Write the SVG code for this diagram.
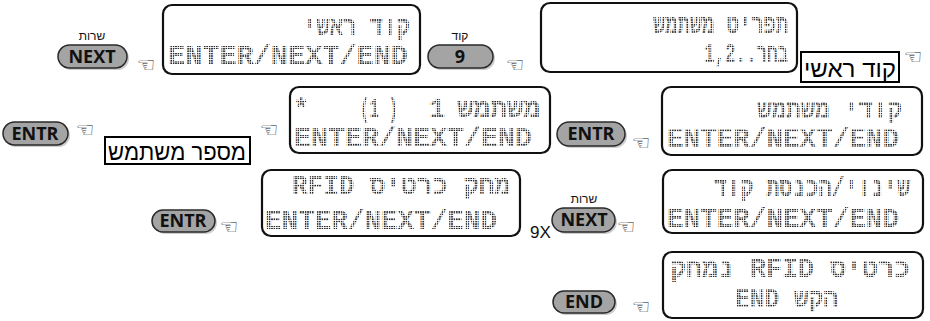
<svg xmlns="http://www.w3.org/2000/svg" width="930" height="321" viewBox="0 0 930 321">
<defs>
<pattern id="dots" patternUnits="userSpaceOnUse" width="2.4" height="2.4">
<rect x="0" y="0" width="1.6" height="1.6" fill="#2a2a2a"/>
</pattern>
<style>
.lcd{fill:#fff;stroke:#111;stroke-width:2.2}
.lt{font-family:"Liberation Mono","DejaVu Sans Mono",monospace;font-size:27px;font-weight:bold;fill:url(#dots)}
.sh{fill:#cdcdcd}
.btn{fill:#a4a4a4;stroke:#2a2a2a;stroke-width:1.5}
.bt{font-family:"Open Sans","Liberation Sans",sans-serif;font-weight:bold;font-size:18px;fill:#111;text-anchor:middle}
.sm{font-family:"Liberation Sans","Noto Sans",sans-serif;font-size:12px;fill:#111;text-anchor:middle}
.hand{font-family:"DejaVu Sans",sans-serif;font-size:21px;fill:#222;text-anchor:middle}
.lbl{fill:#fff;stroke:#000;stroke-width:2}
.lbt{font-family:"Liberation Sans","Noto Sans",sans-serif;font-size:24px;fill:#000;text-anchor:middle}
</style>
</defs>
<rect width="930" height="321" fill="#fff"/>

<g id="lcd-menu">
<rect class="lcd" x="541" y="3" width="256" height="69" rx="9"/>
<text class="lt" x="653" y="33" textLength="135" lengthAdjust="spacingAndGlyphs">תפריט משתמש</text>
<text class="lt" x="704" y="62" textLength="84" lengthAdjust="spacingAndGlyphs">1,2..בחר</text>
</g>
<g id="label-master">
<rect class="lbl" x="801" y="52" width="98" height="30"/>
<text class="lbt" x="850" y="77" textLength="92" lengthAdjust="spacingAndGlyphs">קוד ראשי</text>
</g>
<g id="lcd-master">
<rect class="lcd" x="163" y="5" width="257" height="69" rx="9"/>
<text class="lt" x="303" y="35" textLength="107" lengthAdjust="spacingAndGlyphs">קוד ראשי</text>
<text class="lt" x="168" y="64" textLength="240" lengthAdjust="spacingAndGlyphs">ENTER/NEXT/END</text>
</g>
<g id="btn-9">
<text class="sm" x="460" y="40">קוד</text>
<rect class="sh" x="430" y="47" width="65" height="23" rx="11.5"/>
<rect class="btn" x="428" y="45" width="65" height="23" rx="11.5"/>
<text class="bt" x="460" y="63">9</text>
</g>
<g id="btn-next-1">
<text class="sm" x="92" y="40">שרות</text>
<rect class="sh" x="60" y="47" width="69" height="23" rx="11.5"/>
<rect class="btn" x="58" y="45" width="69" height="23" rx="11.5"/>
<text class="bt" x="92" y="63">NEXT</text>
</g>

<g id="lcd-codes">
<rect class="lcd" x="662" y="87" width="260" height="68" rx="9"/>
<text class="lt" x="757" y="118" textLength="145" lengthAdjust="spacingAndGlyphs">קודי משתמש</text>
<text class="lt" x="667" y="147" textLength="232" lengthAdjust="spacingAndGlyphs">ENTER/NEXT/END</text>
</g>
<g id="btn-entr-2">
<rect class="sh" x="559" y="124" width="68" height="24" rx="12"/>
<rect class="btn" x="557" y="122" width="68" height="24" rx="12"/>
<text class="bt" x="591" y="140">ENTR</text>
</g>
<g id="lcd-user1">
<rect class="lcd" x="290" y="87" width="260" height="66" rx="9"/>
<text class="lt" x="293" y="117">*</text>
<text class="lt" x="360" y="117" textLength="38" lengthAdjust="spacingAndGlyphs">(1 )</text>
<text class="lt" x="429" y="117">1</text>
<text class="lt" x="457" y="117" textLength="83" lengthAdjust="spacingAndGlyphs">משתמש</text>
<text class="lt" x="294" y="146" textLength="238" lengthAdjust="spacingAndGlyphs">ENTER/NEXT/END</text>
</g>
<g id="label-user-number">
<rect class="lbl" x="105" y="137" width="145" height="27"/>
<text class="lbt" x="177" y="160" textLength="138" lengthAdjust="spacingAndGlyphs">מספר משתמש</text>
</g>
<g id="btn-entr-1">
<rect class="sh" x="5" y="124" width="65" height="23" rx="11.5"/>
<rect class="btn" x="3" y="122" width="65" height="23" rx="11.5"/>
<text class="bt" x="35" y="140">ENTR</text>
</g>

<g id="lcd-change-code">
<rect class="lcd" x="663" y="170" width="260" height="63" rx="9"/>
<text class="lt" x="714" y="196" textLength="196" lengthAdjust="spacingAndGlyphs">שינוי/הכנסת קוד</text>
<text class="lt" x="667" y="227" textLength="232" lengthAdjust="spacingAndGlyphs">ENTER/NEXT/END</text>
</g>
<g id="btn-next-2">
<text class="sm" x="584" y="203">שרות</text>
<text x="530" y="238" style="font-family:'Liberation Sans',sans-serif;font-size:17px;fill:#111">9X</text>
<rect class="sh" x="554" y="210" width="63" height="24" rx="12"/>
<rect class="btn" x="552" y="208" width="63" height="24" rx="12"/>
<text class="bt" x="584" y="226">NEXT</text>
</g>
<g id="lcd-delete-rfid">
<rect class="lcd" x="262" y="170" width="258" height="66" rx="9"/>
<text class="lt" x="292" y="194" textLength="218" lengthAdjust="spacingAndGlyphs">RFID מחק כרטיס</text>
<text class="lt" x="265" y="229" textLength="232" lengthAdjust="spacingAndGlyphs">ENTER/NEXT/END</text>
</g>
<g id="btn-entr-3">
<rect class="sh" x="154" y="212" width="63" height="22" rx="11"/>
<rect class="btn" x="152" y="210" width="63" height="22" rx="11"/>
<text class="bt" x="183" y="227">ENTR</text>
</g>

<g id="lcd-deleted">
<rect class="lcd" x="663" y="252" width="260" height="66" rx="9"/>
<text class="lt" x="670" y="277" textLength="240" lengthAdjust="spacingAndGlyphs">נמחק RFID כרטיס</text>
<text class="lt" x="735" y="307" textLength="103" lengthAdjust="spacingAndGlyphs">END הקש</text>
</g>
<g id="btn-end">
<rect class="sh" x="555" y="293" width="62" height="22" rx="11"/>
<rect class="btn" x="553" y="291" width="62" height="22" rx="11"/>
<text class="bt" x="584" y="308">END</text>
</g>

<g id="connectors">
<text class="hand" x="913" y="64">☜</text>
<text class="hand" x="515" y="72">☜</text>
<text class="hand" x="146" y="72">☜</text>
<text class="hand" x="641" y="150">☜</text>
<text class="hand" x="269" y="137">☜</text>
<text class="hand" x="85" y="137">☜</text>
<text class="hand" x="626" y="234">☜</text>
<text class="hand" x="229" y="234">☜</text>
<text class="hand" x="641" y="314">☜</text>
</g>
</svg>
